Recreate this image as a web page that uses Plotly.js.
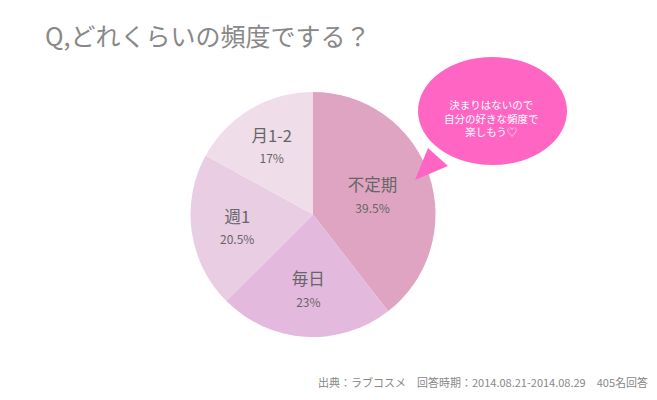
<!DOCTYPE html>
<html>
<head>
<meta charset="utf-8">
<script src="https://cdn.plot.ly/plotly-3.0.1.min.js"></script>
<style>html,body{margin:0;padding:0;background:#fff;}#chart{width:657px;height:400px;}</style>
</head>
<body>
<div id="chart"></div>
<script>
const categories = ["不定期", "毎日", "週1", "月1-2"];
const values = [39.5, 23, 20.5, 17];
const colors = ["#dfa4c1", "#e3badd", "#e8cde3", "#efdeea"];
const titleText = "Q,どれくらいの頻度でする？";
const bubbleLines = ["決まりはないので", "自分の好きな頻度で", "楽しもう♡"];
const sourceText = "出典：ラブコスメ　回答時期：2014.08.21-2014.08.29　405名回答";

const font = "'Noto Sans CJK JP', 'Noto Sans', sans-serif";

const trace = {
  type: "pie",
  labels: categories,
  values: values,
  sort: false,
  direction: "clockwise",
  rotation: 0,
  marker: { colors: colors, line: { width: 0 } },
  textinfo: "text",
  texttemplate: categories.map((c, i) => c + "<br><span style='font-size:12px'>" + values[i] + "%</span>"),
  textposition: "inside",
  insidetextorientation: "horizontal",
  insidetextfont: { family: font, size: 16.5, color: "#666666" },
  hoverinfo: "none",
  showlegend: false,
  domain: { x: [190 / 657, 436 / 657], y: [(400 - 337) / 400, (400 - 92) / 400] }
};

const W = 657, H = 400;
const px = (x) => (x / W).toFixed(4);
const py = (y) => (1 - y / H).toFixed(4);

const layout = {
  width: W,
  height: H,
  margin: { l: 0, r: 0, t: 0, b: 0 },
  paper_bgcolor: "#ffffff",
  plot_bgcolor: "#ffffff",
  title: {
    text: titleText,
    font: { family: font, size: 25, color: "#888888" },
    x: 45 / W, xanchor: "left", xref: "paper",
    y: 1 - 37 / H, yanchor: "middle", yref: "paper"
  },
  shapes: [
    { type: "path", xref: "paper", yref: "paper",
      path: "M " + px(428) + " " + py(148) + " L " + px(415) + " " + py(180) + " L " + px(448) + " " + py(166) + " Z",
      fillcolor: "#ff66c4", line: { width: 0 } },
    { type: "circle", xref: "paper", yref: "paper",
      x0: 418 / W, x1: 567 / W, y0: 1 - 165 / H, y1: 1 - 57 / H,
      fillcolor: "#ff66c4", line: { width: 0 } }
  ],
  annotations: [
    { text: bubbleLines.join("<br>"), xref: "paper", yref: "paper",
      x: 491 / W, y: 1 - 118 / H, xanchor: "center", yanchor: "middle",
      showarrow: false, align: "center",
      font: { family: font, size: 10.5, color: "#ffffff" } },
    { text: sourceText, xref: "paper", yref: "paper",
      x: 650 / W, y: 1 - 382 / H, xanchor: "right", yanchor: "middle",
      showarrow: false, font: { family: font, size: 11, color: "#888888" } }
  ]
};

Plotly.newPlot("chart", [trace], layout, { displayModeBar: false, staticPlot: true });
</script>
</body>
</html>
